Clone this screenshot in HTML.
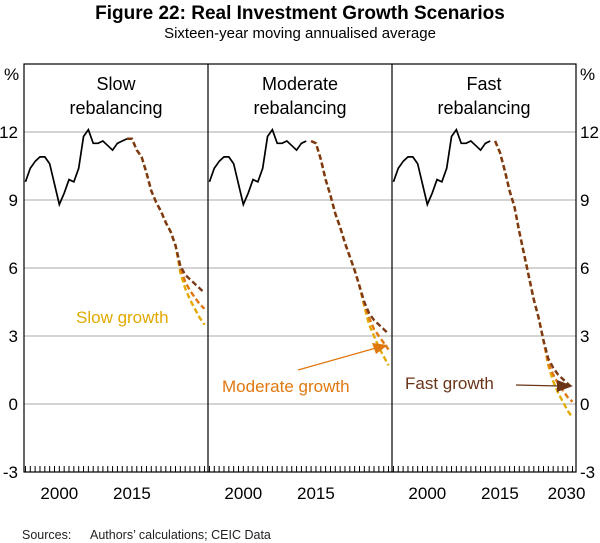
<!DOCTYPE html>
<html><head><meta charset="utf-8"><style>
body{margin:0;background:#fff;}
svg{display:block;font-family:"Liberation Sans",Arial,sans-serif;}
</style></head><body>
<svg id="chart" width="600" height="543" viewBox="0 0 600 543">
<text x="300" y="19" text-anchor="middle" font-size="19" font-weight="bold">Figure 22: Real Investment Growth Scenarios</text>
<text x="300" y="38" text-anchor="middle" font-size="15">Sixteen-year moving annualised average</text>
<g id="plot"></g>
<text x="22" y="539" font-size="12.5" fill="#222">Sources:</text>
<text x="90" y="539" font-size="12.5" fill="#222">Authors’ calculations; CEIC Data</text>
</svg>
<script>
const histYears=[1993,1994,1995,1996,1997,1998,1999,2000,2001,2002,2003,2004,2005,2006,2007,2008,2009,2010,2011,2012,2013,2014];
const histValues=[9.8,10.4,10.7,10.9,10.9,10.6,9.7,8.8,9.3,9.9,9.8,10.4,11.8,12.1,11.5,11.5,11.6,11.4,11.2,11.5,11.6,11.7];
const projYears=[2014,2015,2016,2017,2018,2019,2020,2021,2022,2023,2024,2025,2026,2027,2028,2029,2030];
const slowFast=[11.7,11.7,11.2,10.9,10.2,9.4,8.9,8.5,8.0,7.6,7.0,6.1,5.7,5.5,5.3,5.1,4.9];
const slowModerate=[11.7,11.7,11.2,10.9,10.2,9.4,8.9,8.5,8.0,7.6,7.0,6.0,5.4,5.0,4.7,4.4,4.2];
const slowSlow=[11.7,11.7,11.2,10.9,10.2,9.4,8.9,8.5,8.0,7.6,7.0,5.8,5.1,4.6,4.2,3.8,3.5];
const modFast=[11.6,11.5,10.8,9.9,9.2,8.4,7.8,7.1,6.5,5.9,5.2,4.5,4.0,3.7,3.5,3.3,3.1];
const modModerate=[11.6,11.5,10.8,9.9,9.2,8.4,7.8,7.1,6.5,5.9,5.2,4.4,3.8,3.3,3.0,2.7,2.4];
const modSlow=[11.6,11.5,10.8,9.9,9.2,8.4,7.8,7.1,6.5,5.9,5.2,4.3,3.5,3.0,2.5,2.1,1.7];
const fastFast=[11.6,11.1,10.3,9.4,8.7,7.6,6.6,5.6,4.6,3.8,2.8,2.0,1.6,1.3,1.1,0.9,0.7];
const fastModerate=[11.6,11.1,10.3,9.4,8.7,7.6,6.6,5.6,4.6,3.8,2.8,1.8,1.3,0.9,0.6,0.3,0.1];
const fastSlow=[11.6,11.1,10.3,9.4,8.7,7.6,6.6,5.6,4.6,3.8,2.8,1.7,1.0,0.5,0.1,-0.3,-0.6];
const yTicks=[-3,0,3,6,9,12];
const xLabels=[2000,2015];

const NS="http://www.w3.org/2000/svg";
const g=document.getElementById('plot');
const panels=[{x0:24,x1:208,title:["Slow","rebalancing"],series:[slowSlow,slowModerate,slowFast],histEnd:2014},
{x0:208,x1:392,title:["Moderate","rebalancing"],series:[modSlow,modModerate,modFast],histEnd:2013},
{x0:392,x1:576,title:["Fast","rebalancing"],series:[fastSlow,fastModerate,fastFast],histEnd:2013}];
const plotTop=64,plotBot=472;
function yS(v){return 404-v*22.67;}
function xS(p,yr){return p.x0+(yr-1992.7)*4.84;}
function el(t,a,parent){const e=document.createElementNS(NS,t);for(const k in a)e.setAttribute(k,a[k]);(parent||g).appendChild(e);return e;}
yTicks.forEach(v=>{if(v>-3){const l=el('line',{x1:24,x2:576,y1:yS(v),y2:yS(v),stroke:'#aaa','stroke-width':1});

}
const t1=el('text',{x:18,y:yS(v)+6,'text-anchor':'end','font-size':17});t1.textContent=v;


const t2=el('text',{x:580,y:yS(v)+6,'font-size':17});t2.textContent=v;

});
const p1=el('text',{x:4,y:80,'font-size':17});p1.textContent='%';


const p2=el('text',{x:580,y:80,'font-size':17});p2.textContent='%';


const colors=['#e2a900','#e07810','#7a3a18'];
panels.forEach((p,i)=>{
 for(let yr=1993;yr<=2030;yr++){const x=xS(p,yr);const tk=el('line',{x1:x,x2:x,y1:plotBot,y2:plotBot-6,stroke:'#000','stroke-width':1});
 
 }
 xLabels.forEach(yr=>{const t=el('text',{x:xS(p,yr),y:499,'text-anchor':'middle','font-size':17});t.textContent=yr;
 
 });
 p.title.forEach((s,j)=>{const t=el('text',{x:(p.x0+p.x1)/2,y:90+j*24,'text-anchor':'middle','font-size':18});t.textContent=s;
 
 });
 const hy=histYears.filter(y=>y<=p.histEnd);
 const hp=hy.map((y,k)=>xS(p,y)+','+yS(histValues[k])).join(' ');
 const h=el('polyline',{points:hp,fill:'none',stroke:'#000','stroke-width':1.7});
 
 
 p.series.forEach((s,k)=>{const pts=projYears.map((y,m)=>xS(p,y)+','+yS(s[m])).join(' ');
 const l=el('polyline',{points:pts,fill:'none',stroke:colors[k],'stroke-width':2.4,'stroke-dasharray':'5.5,3'});
 
 });
});
const extra=el('text',{x:xS(panels[2],2030)-6,y:499,'text-anchor':'middle','font-size':17});extra.textContent='2030';


const fr=el('rect',{x:24,y:plotTop,width:552,height:plotBot-plotTop,fill:'none',stroke:'#000','stroke-width':1.2});


[208,392].forEach(x=>{const d=el('line',{x1:x,x2:x,y1:plotTop,y2:plotBot,stroke:'#000','stroke-width':1.2});

});
const a1=el('text',{x:76,y:323,'font-size':17,fill:'#e2a900'});a1.textContent='Slow growth';


const a2=el('text',{x:222,y:392,'font-size':17,fill:'#e07810'});a2.textContent='Moderate growth';


const a3=el('text',{x:405,y:389,'font-size':17,fill:'#6b3418'});a3.textContent='Fast growth';


const ar1=el('line',{x1:298,y1:370,x2:376,y2:348,stroke:'#e07810','stroke-width':1.2});


const ah1=el('polygon',{points:'388,345 372,343 376,354',fill:'#e07810'});


const ar2=el('line',{x1:516,y1:385,x2:560,y2:386,stroke:'#6b3418','stroke-width':1.2});


const ah2=el('polygon',{points:'573,386 557,380 557,392',fill:'#6b3418'});


</script>
</body></html>
